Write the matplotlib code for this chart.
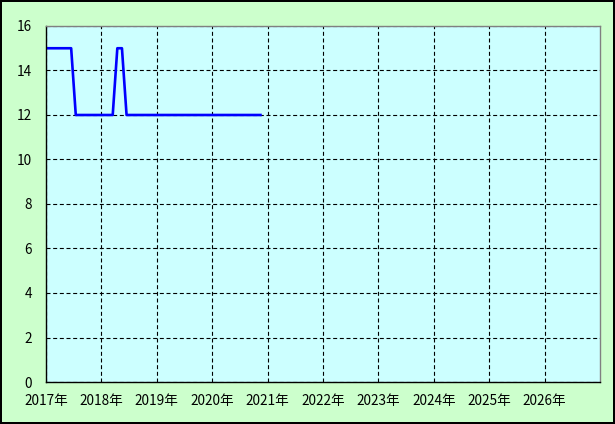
import matplotlib
matplotlib.use("Agg")
import matplotlib.pyplot as plt
import numpy as np

plt.rcParams["font.family"] = ["Noto Sans CJK JP", "DejaVu Sans"]

# monthly values, Jan 2017 .. Nov 2020
start_year = 2017
values = [15, 15, 15, 15, 15, 15,            # 2017 Jan-Jun
          12, 12, 12, 12, 12, 12,            # 2017 Jul-Dec
          12, 12, 12, 15, 15, 12,            # 2018 Jan-Jun
          12, 12, 12, 12, 12, 12,            # 2018 Jul-Dec
          12, 12, 12, 12, 12, 12, 12, 12, 12, 12, 12, 12,   # 2019
          12, 12, 12, 12, 12, 12, 12, 12, 12, 12, 12]       # 2020 Jan-Nov
years = list(range(2017, 2027))
year_labels = [f"{y}年" for y in years]

t = start_year + (np.arange(len(values)) + 0.45) / 12

fig = plt.figure(figsize=(6.15, 4.24), dpi=100, facecolor="#CCFFCC",
                 edgecolor="black", linewidth=1.5)
ax = fig.add_axes([46 / 615, 42 / 424, 554 / 615, 356 / 424])
ax.set_facecolor("#CCFFFF")

ax.plot(t, values, color="#0000FF", linewidth=1.9)

ax.set_xlim(2017, 2027)
ax.set_ylim(0, 16)
ax.set_xticks(years)
ax.set_xticklabels(year_labels)
ax.set_yticks(range(0, 17, 2))
ax.tick_params(axis="both", length=0, labelsize=9.8, colors="black")
ax.tick_params(axis="y", pad=10)
ax.tick_params(axis="x", pad=8.5)

ax.grid(True, color="black", linestyle=(0, (3.6, 2.4)), linewidth=0.8)
for side in ("top", "right"):
    ax.spines[side].set_color("#808080")
for side in ("left", "bottom"):
    ax.spines[side].set_color("black")
for s in ax.spines.values():
    s.set_linewidth(1)

fig.savefig("out.png", dpi=100, facecolor=fig.get_facecolor(), edgecolor="black")
